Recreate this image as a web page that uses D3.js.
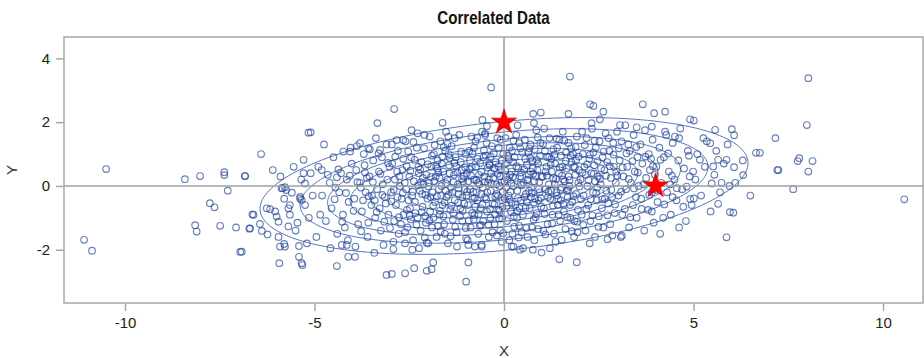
<!DOCTYPE html>
<html>
<head>
<meta charset="utf-8">
<script src="https://cdn.jsdelivr.net/npm/d3@7"></script>
<style>
  body { margin: 0; background: #fff; }
  svg { display: block; font-family: "Liberation Sans", Arial, sans-serif; }
</style>
</head>
<body>
<figure id="scatter" style="margin:0"></figure>
<script>
// ---- data ----
const xTicks = [-10, -5, 0, 5, 10];
const yTicks = [-2, 0, 2, 4];
const stars = [[0, 2], [4, 0]];
const center = [0, 0];
const sigma = [[9, 1], [1, 1]];
const densityLevels = [0.1, 0.2, 0.3, 0.4, 0.5, 0.6, 0.7, 0.8, 0.9];

// sparse points around the edges
const outerPoints = [
  [-10.5,0.53],[-11.08,-1.69],[-10.87,-2.03],[-8.42,0.21],[-8.02,0.31],[-7.38,0.43],[-7.38,0.34],
  [-6.83,0.31],[-6.41,1.0],[-6.1,0.5],[-7.29,-0.15],[-7.76,-0.54],[-7.64,-0.67],[-8.15,-1.23],
  [-8.11,-1.43],[-7.49,-1.25],[-7.07,-1.3],[-6.72,-1.34],[-6.96,-2.07],[-6.64,-0.89],[-6.44,-1.19],
  [-6.26,-0.7],[-6.17,-0.73],[-6.04,-0.8],[-6.0,-0.96],[-5.95,-1.12],[-6.39,-1.41],[-6.24,-1.52],
  [-5.84,-0.07],[-5.75,-0.13],[-5.6,-0.21],[-5.69,-0.7],[-5.69,-1.27],[-5.45,-1.15],[-5.91,-1.9],
  [-5.8,-1.82],[-5.78,-1.9],[-5.93,-2.42],[-5.41,-1.88],[-5.41,-2.22],[-5.32,-2.48],[-5.29,0.82],
  [-5.29,0.4],[-5.16,1.67],[-5.25,0.08],[-5.38,-0.39],[-5.34,-0.44],[-5.65,-0.6],[-6.61,-0.91],
  [-6.7,-1.33],[-6.92,-2.06],[-5.87,-0.07],[-5.78,-0.04],[-5.38,-0.34],[-3.34,1.97],[-5.1,1.68],
  [-6.84,0.31],[-4.81,0.5],[-4.41,0.27],[-3.8,1.34],[-4.24,1.08],[-4.06,1.08],[-3.54,1.15],
  [-4.41,-2.51],[-4.11,-2.22],[-3.93,-2.22],[-4.28,-1.85],[-4.15,-1.85],[-3.1,-2.79],[-5.34,-2.42],
  [-0.34,3.09],[-2.9,2.41],[-1.62,1.98],[-0.57,2.07],[-0.5,1.65],[-2.28,1.65],[-1.47,1.55],
  [-2.96,-2.76],[-2.61,-2.74],[-2.37,-2.58],[-2.04,-2.66],[-1.91,-2.61],[-1.87,-2.4],[-0.94,-2.4],
  [-1.0,-3.0],[-2.04,-1.78],[-2.0,-1.8],[-2.61,-1.8],[-2.42,-2.0],[-2.92,-1.98],[-0.94,-1.85],
  [-0.77,-1.9],[-0.59,-1.9],[-0.06,-1.75],[0.2,-1.9],[-0.02,-1.48],[-1.53,1.7],[-3.58,1.18],
  [-3.27,1.13],[-2.83,1.44],[-2.66,1.44],
  [1.74,3.43],[2.27,2.56],[2.36,2.51],[3.66,2.56],[3.96,2.28],[0.77,2.26],[0.97,2.3],[1.7,2.26],
  [2.62,2.33],[2.53,2.09],[0.79,1.97],[2.31,1.97],[3.06,1.91],[3.5,1.84],[3.9,1.86],[1.46,-2.3],
  [1.92,-2.39],[2.73,-1.67],[3.11,-1.56],[0.42,-2.0],[0.76,-2.0],[0.99,-2.09],[1.21,-1.95],
  [0.25,-1.9],[1.52,-1.69],[4.25,2.33],[4.91,2.09],[5.01,2.05],[5.57,1.76],[6.01,1.78],[6.07,1.59],
  [7.16,1.5],[6.65,1.04],[7.21,0.5],[6.31,0.34],[5.87,0.82],[5.65,0.82],[6.07,0.59],[5.26,1.5],
  [5.44,1.34],[4.51,1.55],[4.25,1.7],[5.17,0.82],[5.52,0.61],[4.99,0.45],[5.48,0.08],[5.74,0.1],
  [4.56,-0.07],[4.82,-0.02],[5.65,-0.56],[5.96,-0.82],[6.05,-0.84],[5.87,-1.61],[4.62,-1.3],
  [4.91,-0.41],[5.01,-0.39],[4.45,-0.35],[4.73,-0.65],[3.9,-0.8],[8.03,3.38],[7.99,1.91],
  [7.79,0.87],[7.75,0.78],[8.14,0.78],[7.24,0.5],[8.03,0.45],[7.63,-0.1],[10.56,-0.42],[6.75,1.04],
  [6.1,0.1],[6.5,-0.3],[6.3,0.8]
];

// dense middle of the cloud, estimated band by band
const corePoints = [
  [-5.05,-0.3],[-5.1,0.4],[-5.15,-1.0],[-5.25,-0.6],[-5.35,0.2],[-5.5,-1.4],[-5.55,0.6],[-5.65,-0.9],
  [-5.8,-0.4],[-5.9,0.3],[-5.95,-1.6],[-5.2,-1.8],
  [-4.9,0.6],[-4.8,-0.3],[-4.7,-1.1],[-4.6,0.1],[-4.55,-0.7],[-4.5,0.9],[-4.4,-1.5],[-4.35,-0.2],
  [-4.3,0.4],[-4.25,-0.9],[-4.2,-1.3],[-4.15,0.2],[-4.1,-0.5],[-4.05,1.2],[-4.95,-1.6],[-4.85,-0.9],
  [-4.65,0.35],[-4.45,-0.05],[-4.12,-1.7],[-4.75,1.3],[-4.58,-1.95],[-4.02,0.7],
  [-3.95,-0.4],[-3.9,0.5],[-3.85,-1.2],[-3.8,0.1],[-3.75,-0.8],[-3.7,1.0],[-3.65,-0.2],[-3.6,-1.6],
  [-3.55,0.3],[-3.5,-0.6],[-3.45,0.8],[-3.4,-1.0],[-3.35,-0.1],[-3.3,0.45],[-3.25,-1.4],[-3.2,0.05],
  [-3.15,-0.35],[-3.1,1.3],[-3.05,-0.9],[-3.02,0.6],[-3.92,-1.9],[-3.78,-0.05],[-3.68,0.65],
  [-3.58,-1.15],[-3.48,-0.3],[-3.38,1.5],[-3.28,-0.7],[-3.18,-1.85],[-3.08,0.2],[-3.62,0.25],
  [-3.88,1.25],[-3.42,-2.1],[-3.12,-0.55],[-3.72,-0.45],[-3.22,0.9],
  [-2.98,-0.2],[-2.95,0.7],[-2.9,-1.1],[-2.88,0.2],[-2.85,-0.6],[-2.8,1.1],[-2.78,-1.5],[-2.75,0.0],
  [-2.7,-0.4],[-2.68,0.5],[-2.65,-0.9],[-2.6,1.4],[-2.58,-0.1],[-2.55,-1.3],[-2.5,0.3],[-2.48,-0.7],
  [-2.45,0.9],[-2.42,-0.3],[-2.4,-1.7],[-2.38,0.15],[-2.35,-0.5],[-2.3,1.2],[-2.28,-1.0],[-2.25,0.4],
  [-2.22,-0.15],[-2.2,-1.4],[-2.18,0.75],[-2.15,-0.65],[-2.12,0.05],[-2.1,1.6],[-2.08,-0.95],
  [-2.05,0.35],[-2.02,-0.4],[-2.92,-1.75],[-2.82,0.45],[-2.72,-1.2],[-2.62,0.1],[-2.52,-0.45],
  [-2.44,1.75],[-2.34,-0.85],[-2.24,-1.95],[-2.14,0.25],[-2.06,-1.15],[-2.96,1.3],[-2.66,0.85],
  [-2.56,-0.75],[-2.46,-1.05],[-2.26,0.6],[-2.16,-0.25],[-2.76,0.3],
  [-1.98,0.1],[-1.95,-0.8],[-1.92,0.6],[-1.9,-1.3],[-1.88,-0.2],[-1.85,1.0],[-1.82,-0.5],[-1.8,0.3],
  [-1.78,-1.6],[-1.75,0.8],[-1.72,-0.1],[-1.7,-0.9],[-1.68,1.4],[-1.65,0.0],[-1.62,-0.6],[-1.6,0.45],
  [-1.58,-1.2],[-1.55,1.1],[-1.52,-0.35],[-1.5,0.2],[-1.48,-1.8],[-1.45,0.65],[-1.42,-0.75],
  [-1.4,-0.05],[-1.38,1.25],[-1.35,-1.05],[-1.32,0.35],[-1.3,-0.45],[-1.28,0.9],[-1.25,-1.45],
  [-1.22,0.05],[-1.2,-0.25],[-1.18,1.6],[-1.15,-0.7],[-1.12,0.5],[-1.1,-1.1],[-1.08,0.15],
  [-1.05,-0.55],[-1.02,1.0],[-1.0,-1.65],[-1.96,1.55],[-1.86,-1.0],[-1.76,0.55],[-1.66,-0.3],
  [-1.56,-1.5],[-1.46,1.0],[-1.36,-0.2],[-1.26,0.6],[-1.16,-0.95],[-1.06,0.3],[-1.94,-0.35],
  [-1.84,0.15],[-1.74,-1.25],[-1.64,0.7],[-1.54,-0.15],[-1.44,0.4],[-1.34,-0.85],[-1.24,-1.9],
  [-1.14,0.75],[-1.04,-0.1],[-1.9,0.95],[-1.6,-0.95],[-1.3,1.5],[-1.1,-0.35],[-1.7,0.25],
  [-0.98,0.4],[-0.95,-0.6],[-0.92,1.1],[-0.9,-0.1],[-0.88,-1.3],[-0.85,0.6],[-0.82,-0.4],[-0.8,0.2],
  [-0.78,-0.9],[-0.75,1.4],[-0.72,-0.2],[-0.7,0.85],[-0.68,-1.5],[-0.65,0.05],[-0.62,-0.7],
  [-0.6,0.45],[-0.58,1.7],[-0.55,-1.1],[-0.52,0.3],[-0.5,-0.35],[-0.48,0.95],[-0.45,-0.8],
  [-0.42,0.1],[-0.4,-1.6],[-0.38,0.65],[-0.35,-0.15],[-0.32,1.25],[-0.3,-0.55],[-0.28,0.25],
  [-0.25,-1.2],[-0.22,0.75],[-0.2,-0.25],[-0.18,1.5],[-0.15,-0.75],[-0.12,0.0],[-0.1,-1.4],
  [-0.08,0.5],[-0.05,-0.45],[-0.02,1.0],[-0.96,-1.7],[-0.86,1.55],[-0.76,-0.65],[-0.66,0.35],
  [-0.56,-0.05],[-0.46,1.35],[-0.36,-1.0],[-0.26,0.55],[-0.16,-0.3],[-0.06,0.8],[-0.94,0.15],
  [-0.84,-0.85],[-0.74,0.6],[-0.64,-1.25],[-0.54,0.9],[-0.44,-0.2],[-0.34,0.4],[-0.24,-0.9],
  [-0.14,1.2],[-0.04,-0.65],[-0.9,0.8],[-0.7,-0.45],[-0.5,1.6],[-0.3,-1.45],[-0.1,0.3],[-0.8,-1.05],
  [-0.6,-0.25],[-0.4,0.2],[-0.2,0.05],[-0.99,-0.3],[-0.79,1.2],[-0.59,-1.85],[-0.39,0.7],
  [-0.19,-1.55],[-0.09,1.45],[-0.69,0.1],
  [0.02,-0.4],[0.05,0.7],[0.08,-1.1],[0.1,0.2],[0.12,-0.3],[0.15,1.2],[0.18,-0.8],[0.2,0.45],
  [0.22,-1.5],[0.25,0.0],[0.28,0.9],[0.3,-0.6],[0.32,1.6],[0.35,-0.15],[0.38,0.55],[0.4,-1.25],
  [0.42,0.3],[0.45,-0.45],[0.48,1.05],[0.5,-0.9],[0.52,0.1],[0.55,1.45],[0.58,-0.25],[0.6,0.65],
  [0.62,-1.6],[0.65,0.35],[0.68,-0.7],[0.7,1.3],[0.72,-0.05],[0.75,0.8],[0.78,-1.05],[0.8,0.15],
  [0.82,-0.4],[0.85,1.75],[0.88,0.5],[0.9,-1.35],[0.92,-0.1],[0.95,0.95],[0.98,-0.65],[0.04,1.5],
  [0.14,-1.7],[0.24,0.75],[0.34,-1.0],[0.44,0.05],[0.54,-0.35],[0.64,1.05],[0.74,-1.3],[0.84,0.3],
  [0.94,-0.2],[0.06,-0.05],[0.16,0.35],[0.26,-0.95],[0.36,1.9],[0.46,-1.45],[0.56,0.85],
  [0.66,-0.15],[0.76,0.55],[0.86,-0.85],[0.96,1.35],[0.1,0.95],[0.3,0.25],[0.5,-1.95],[0.7,0.45],
  [0.9,0.7],[0.2,-0.55],[0.4,1.35],[0.6,-0.5],[0.8,-1.7],[0.01,0.15],[0.21,1.1],[0.41,-0.7],
  [0.61,0.2],[0.81,1.15],[0.91,-0.45],[0.71,-0.35],
  [1.02,0.3],[1.05,-0.7],[1.08,1.1],[1.1,-0.1],[1.12,0.6],[1.15,-1.2],[1.18,0.05],[1.2,1.5],
  [1.22,-0.4],[1.25,0.85],[1.28,-0.9],[1.3,0.25],[1.32,-1.5],[1.35,0.7],[1.38,-0.2],[1.4,1.2],
  [1.42,-0.6],[1.45,0.4],[1.48,-1.1],[1.5,0.95],[1.52,-0.05],[1.55,1.7],[1.58,-0.8],[1.6,0.15],
  [1.62,-1.35],[1.65,0.55],[1.68,-0.35],[1.7,1.35],[1.72,0.0],[1.75,-1.0],[1.78,0.75],[1.8,-0.5],
  [1.82,1.0],[1.85,-1.6],[1.88,0.35],[1.9,-0.25],[1.92,1.55],[1.95,-0.75],[1.98,0.5],[1.06,1.8],
  [1.16,-0.35],[1.26,0.45],[1.36,-1.75],[1.46,1.45],[1.56,0.2],[1.66,-0.15],[1.76,0.95],
  [1.86,-1.1],[1.96,0.1],[1.04,-1.4],[1.14,0.9],[1.24,-0.15],[1.34,0.05],[1.44,-0.9],[1.54,0.6],
  [1.64,1.05],[1.74,-0.6],[1.84,0.6],[1.94,-1.45],[1.1,0.45],[1.3,1.15],[1.5,-0.45],[1.7,0.3],
  [1.9,0.8],[1.4,-0.3],
  [2.02,0.2],[2.05,-0.9],[2.08,1.0],[2.1,-0.3],[2.12,0.6],[2.15,-1.4],[2.18,1.5],[2.2,0.0],
  [2.22,-0.6],[2.25,0.85],[2.28,-1.1],[2.3,0.4],[2.32,1.8],[2.35,-0.2],[2.38,0.65],[2.4,-1.6],
  [2.42,1.2],[2.45,-0.45],[2.48,0.3],[2.5,-0.95],[2.52,1.4],[2.55,0.05],[2.58,-0.7],[2.6,0.9],
  [2.62,-1.3],[2.65,0.5],[2.68,1.65],[2.7,-0.15],[2.72,0.75],[2.75,-0.55],[2.78,1.1],[2.8,-1.2],
  [2.82,0.25],[2.85,-0.35],[2.88,1.35],[2.9,0.6],[2.92,-0.85],[2.95,0.1],[2.98,1.7],[2.06,1.7],
  [2.16,0.35],[2.26,-1.8],[2.36,1.05],[2.46,-0.05],[2.56,0.55],[2.66,-0.4],[2.76,1.5],[2.86,-1.55],
  [2.96,0.45],[2.4,0.15],
  [3.02,-0.3],[3.05,0.8],[3.1,1.4],[3.12,-0.9],[3.15,0.3],[3.2,1.9],[3.22,-0.1],[3.25,0.6],
  [3.3,-1.3],[3.32,1.1],[3.35,0.1],[3.4,-0.6],[3.42,1.6],[3.45,0.45],[3.5,-1.0],[3.52,0.9],
  [3.55,0.0],[3.6,1.3],[3.62,-0.4],[3.65,0.7],[3.7,-1.4],[3.72,1.75],[3.75,0.25],[3.8,-0.75],
  [3.82,1.0],[3.85,0.5],[3.9,-0.2],[3.92,1.45],[3.95,-1.15],[3.98,0.35],[3.08,-1.6],[3.28,1.3],
  [3.48,-0.35],[3.68,0.05],[3.88,0.85],
  [4.02,0.6],[4.05,-0.5],[4.1,1.2],[4.15,0.1],[4.2,-1.0],[4.22,0.9],[4.28,1.6],[4.3,-0.2],
  [4.35,0.45],[4.4,-0.9],[4.45,1.35],[4.5,0.2],[4.55,-0.45],[4.6,0.8],[4.65,1.8],[4.7,-0.1],
  [4.75,0.55],[4.8,-1.1],[4.85,1.1],[4.9,0.3],[4.95,-0.6],[4.12,-1.5],[4.38,0.05],[4.62,1.5],
  [4.88,0.95],
  [5.05,0.2],[5.1,1.0],[5.2,-0.3],[5.3,0.6],[5.35,1.4],[5.45,-0.8],[5.55,0.35],[5.6,1.1],
  [5.7,-0.2],[5.8,0.7],[5.9,1.3],[5.95,0.0]
];

// second pass over the darkest part of the cloud
const densePoints = [
  [-4.47,-0.42],[-4.37,0.52],[-4.27,-1.12],[-4.17,-0.22],[-4.07,0.32],[-3.97,-0.78],[-3.87,0.12],
  [-3.77,-1.42],[-3.67,0.42],[-3.57,-0.32],
  [-3.46,0.12],[-3.36,-0.82],[-3.26,0.38],[-3.16,-1.12],[-3.06,0.72],[-2.97,-0.48],[-2.87,0.92],
  [-2.77,-0.98],[-2.67,-0.22],[-2.57,0.62],[-3.41,-0.45],[-3.31,1.02],[-3.21,-0.28],[-2.91,-0.12],
  [-2.81,-0.35],[-2.61,-1.45],[-2.53,1.08],[-3.01,-1.32],
  [-2.47,0.48],[-2.41,-0.18],[-2.36,0.82],[-2.31,-1.22],[-2.27,0.02],[-2.21,0.52],[-2.17,-0.82],
  [-2.11,1.18],[-2.07,-0.28],[-2.01,0.68],[-1.97,-1.08],[-1.93,0.28],[-1.87,-0.62],[-1.83,1.28],
  [-1.77,-0.32],[-1.73,0.42],[-1.67,-1.42],[-1.63,0.92],[-1.57,-0.52],[-1.53,0.08],[-2.49,-0.92],
  [-2.39,1.38],[-2.19,0.12],[-2.09,-1.62],[-1.99,-0.02],[-1.79,0.62],[-1.69,-0.78],[-1.59,1.22],
  [-1.47,-0.28],[-1.43,0.88],[-1.39,-0.62],[-1.33,0.12],[-1.29,-1.28],[-1.23,0.42],[-1.19,-0.08],
  [-1.13,1.08],[-1.09,-0.78],[-1.03,0.58],[-0.97,-0.18],[-0.93,-1.08],[-0.87,0.32],[-0.83,1.02],
  [-0.77,-0.38],[-0.73,0.18],[-0.67,-0.88],[-0.63,0.72],[-0.57,-0.58],[-0.53,1.12],[-1.49,1.32],
  [-1.41,-1.58],[-1.31,0.72],[-1.21,-0.52],[-1.11,0.22],[-1.01,-1.32],[-0.91,0.52],[-0.81,-0.18],
  [-0.71,1.52],[-0.61,-1.22],[-0.51,0.12],
  [-0.47,-0.42],[-0.43,0.58],[-0.37,-0.72],[-0.33,0.08],[-0.27,1.02],[-0.23,-0.32],[-0.17,0.38],
  [-0.13,-1.02],[-0.07,0.12],[-0.03,-0.18],[0.03,0.48],[0.07,-0.62],[0.13,0.82],[0.17,-0.18],
  [0.23,0.28],[0.27,-1.28],[0.33,0.62],[0.37,-0.38],[0.43,1.18],[0.47,0.02],[-0.45,1.88],
  [-0.35,0.92],[-0.25,-0.58],[-0.15,0.62],[-0.05,-1.02],[0.05,0.28],[0.15,-0.42],[0.25,1.42],
  [0.35,-0.78],[0.45,0.42],[-0.41,-1.22],[-0.11,-0.78],[0.19,0.08],[0.39,-1.62],
  [0.53,0.52],[0.57,-0.68],[0.63,0.18],[0.67,1.18],[0.73,-0.22],[0.77,0.38],[0.83,-0.98],
  [0.87,0.82],[0.93,0.12],[0.97,-0.38],[1.03,1.32],[1.07,-0.88],[1.13,0.32],[1.17,-0.18],
  [1.23,0.68],[1.27,-1.18],[1.33,0.98],[1.37,0.22],[1.43,-0.42],[1.47,0.58],[0.59,-1.32],
  [0.69,0.88],[0.79,-0.52],[0.89,1.52],[0.99,0.28],[1.09,-1.52],[1.19,0.92],[1.29,-0.62],
  [1.39,1.48],[1.49,-0.12],
  [1.53,0.32],[1.57,-0.58],[1.63,0.78],[1.67,-0.98],[1.73,0.18],[1.77,1.18],[1.83,-0.32],
  [1.87,0.58],[1.93,-1.12],[1.97,0.92],[2.03,-0.42],[2.07,0.42],[2.13,1.28],[2.17,-0.72],
  [2.23,0.18],[2.27,0.98],[2.33,-0.92],[2.37,0.38],[2.43,-0.22],[2.47,0.78],[1.59,1.42],
  [1.69,-0.12],[1.79,-1.42],[1.89,1.22],[1.99,-0.02],[2.09,-1.22],[2.19,0.68],[2.29,-0.42],
  [2.39,1.42],[2.49,-1.28],
  [2.53,0.22],[2.59,-0.42],[2.63,1.08],[2.69,0.32],[2.73,-0.92],[2.79,0.62],[2.83,-0.12],
  [2.89,0.98],[2.93,-0.58],[2.99,0.32],[3.03,1.18],[3.09,-0.18],[3.13,0.58],[3.19,-0.72],
  [3.23,1.02],[3.29,0.22],[3.33,-0.98],[3.39,0.78],[3.43,-0.08],[3.49,1.22],
  [3.53,0.42],[3.63,-0.72],[3.73,0.92],[3.83,-0.28],[3.93,0.62],[4.03,-0.12],[4.13,0.82],
  [4.23,-0.58],[4.33,1.02],[4.43,0.32]
];

const width = 924;
const height = 358;
const plot = { left: 64, right: 923, top: 37, bottom: 303 };

const svg = d3.select("figure#scatter")
  .append("svg")
  .attr("width", width)
  .attr("height", height);

const x = d3.scaleLinear().domain([-11.61, 11.055]).range([plot.left, plot.right]);
const y = d3.scaleLinear().domain([-3.67, 4.67]).range([plot.bottom, plot.top]);

// title + axis labels (title squeezed to look like the narrow SAS font)
const titleX = (plot.left + plot.right) / 2;
svg.append("text")
  .attr("transform", "translate(" + titleX + ",24) scale(0.84,1)")
  .attr("text-anchor", "middle")
  .attr("font-size", 18)
  .attr("font-weight", "bold")
  .attr("fill", "#111")
  .text("Correlated Data");

svg.append("text")
  .attr("x", 504)
  .attr("y", 356)
  .attr("text-anchor", "middle")
  .attr("font-size", 15)
  .attr("fill", "#333")
  .text("X");

svg.append("text")
  .attr("transform", "translate(17,170) rotate(-90)")
  .attr("text-anchor", "middle")
  .attr("font-size", 15)
  .attr("fill", "#333")
  .text("Y");

// axes
const fmt = d => String(d);
const xAxis = svg.append("g")
  .attr("transform", "translate(0," + plot.bottom + ")")
  .call(d3.axisBottom(x).tickValues(xTicks).tickFormat(fmt).tickSize(8).tickPadding(6));
const yAxis = svg.append("g")
  .attr("transform", "translate(" + plot.left + ",0)")
  .call(d3.axisLeft(y).tickValues(yTicks).tickFormat(fmt).tickSize(8).tickPadding(6));

[xAxis, yAxis].forEach(g => {
  g.select(".domain").remove();
  g.selectAll(".tick line").attr("stroke", "#a8a8a8").attr("stroke-width", 1.5);
  g.selectAll(".tick text")
    .attr("font-size", 15)
    .attr("fill", "#222")
    .attr("font-family", "\"Liberation Sans\", Arial, sans-serif");
});

svg.append("clipPath").attr("id", "plotclip")
  .append("rect")
  .attr("x", plot.left).attr("y", plot.top)
  .attr("width", plot.right - plot.left).attr("height", plot.bottom - plot.top);

const area = svg.append("g").attr("clip-path", "url(#plotclip)");

// contour ellipses of the bivariate normal
const a = Math.sqrt(sigma[0][0]);
const b = sigma[1][0] / a;
const c = Math.sqrt(sigma[1][1] - b * b);
const angles = d3.range(0, 2 * Math.PI, Math.PI / 90);

const ellipse = d3.line()
  .x(p => x(p[0]))
  .y(p => y(p[1]))
  .curve(d3.curveLinearClosed);

area.selectAll("path.contour")
  .data(densityLevels)
  .enter()
  .append("path")
  .attr("class", "contour")
  .attr("fill", "none")
  .attr("stroke", "#5575c4")
  .attr("stroke-width", 1)
  .attr("d", lvl => {
    const r = Math.sqrt(-2 * Math.log(lvl));
    return ellipse(angles.map(t => [
      center[0] + r * a * Math.cos(t),
      center[1] + r * (b * Math.cos(t) + c * Math.sin(t))
    ]));
  });

// scatter markers
area.selectAll("circle.pt")
  .data(outerPoints.concat(corePoints, densePoints))
  .enter()
  .append("circle")
  .attr("class", "pt")
  .attr("cx", d => x(d[0]))
  .attr("cy", d => y(d[1]))
  .attr("r", 3.3)
  .attr("fill", "none")
  .attr("stroke", "#1f449c")
  .attr("stroke-opacity", 0.68)
  .attr("stroke-width", 1.15);

// reference lines
area.append("line")
  .attr("x1", x(0)).attr("x2", x(0))
  .attr("y1", plot.top).attr("y2", plot.bottom)
  .attr("stroke", "#a0a0a0").attr("stroke-width", 1.6);
area.append("line")
  .attr("x1", plot.left).attr("x2", plot.right)
  .attr("y1", y(0)).attr("y2", y(0))
  .attr("stroke", "#a0a0a0").attr("stroke-width", 1.6);

// red stars
area.selectAll("path.star")
  .data(stars)
  .enter()
  .append("path")
  .attr("class", "star")
  .attr("transform", d => "translate(" + x(d[0]) + "," + y(d[1]) + ")")
  .attr("d", d3.symbol().type(d3.symbolStar).size(190))
  .attr("fill", "#ff0000")
  .attr("stroke", "#e00000")
  .attr("stroke-width", 0.8);

// frame
svg.append("rect")
  .attr("x", plot.left).attr("y", plot.top)
  .attr("width", plot.right - plot.left).attr("height", plot.bottom - plot.top)
  .attr("fill", "none")
  .attr("stroke", "#a8a8a8")
  .attr("stroke-width", 1.5);
</script>
</body>
</html>
